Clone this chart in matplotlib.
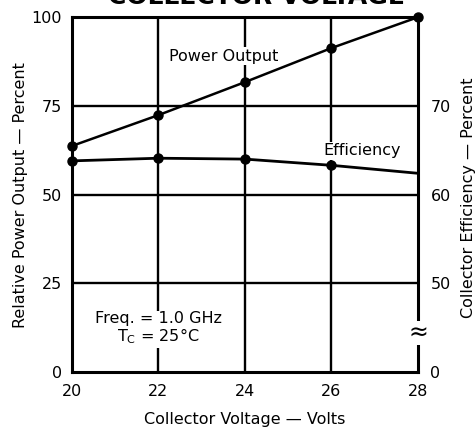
import matplotlib.pyplot as plt
import numpy as np

plt.rcParams['font.family'] = ['DejaVu Sans']

# --- Data ---
voltage = [20, 22, 24, 26, 28]
power_output = [63.7, 72.4, 81.7, 91.3, 100.0]       # relative power, %
efficiency = [63.8, 64.1, 64.0, 63.3, 62.4]          # collector efficiency, %

left_ticks = [0, 25, 50, 75, 100]
right_tick_pos = [0, 25, 50, 75]
right_tick_labels = ["0", "50", "60", "70"]

# efficiency axis is broken: 50..70 % maps onto 25..75 of the left scale
def eff_to_left(e):
    return 25 + (np.asarray(e) - 50) * 2.5

fs = 11.5

fig = plt.figure(figsize=(4.76, 4.30), dpi=100)
ax = fig.add_axes([0.151, 0.135, 0.727, 0.825])

# --- grid ---
for y in [25, 50, 75]:
    ax.axhline(y, color="black", lw=1.7, zorder=1)
for x in [22, 24, 26]:
    ax.axvline(x, color="black", lw=1.7, zorder=1)

# --- curves ---
ax.plot(voltage, power_output, color="black", lw=1.8, marker="o", ms=6.5,
        clip_on=False, zorder=3)
eff_left = eff_to_left(efficiency)
ax.plot(voltage, eff_left, color="black", lw=2.0, zorder=3, clip_on=False)
ax.plot(voltage[:-1], eff_left[:-1], ls="none", marker="o", ms=6.5,
        color="black", clip_on=False, zorder=3)

# --- labels on chart ---
ax.text(23.5, 89, "Power Output", ha="center", va="center", fontsize=fs,
        bbox=dict(facecolor="white", edgecolor="none", pad=1), zorder=2)
ax.text(26.7, 62.3, "Efficiency", ha="center", va="center", fontsize=fs,
        bbox=dict(facecolor="white", edgecolor="none", pad=1), zorder=2)
ax.text(22.0, 12.2, "Freq. = 1.0 GHz\nT$_\\mathregular{C}$ = 25\u00b0C",
        ha="center", va="center", fontsize=fs, linespacing=1.05,
        bbox=dict(facecolor="white", edgecolor="none", pad=1), zorder=2)

ax.set_xlim(20, 28)
ax.set_ylim(0, 100)
ax.set_xticks(voltage)
ax.set_yticks(left_ticks)
ax.tick_params(length=0, labelsize=fs, pad=7)
ax.tick_params(axis="x", pad=9)
for s in ax.spines.values():
    s.set_linewidth(2.2)

ax.set_xlabel("Collector Voltage \u2014 Volts", fontsize=fs, labelpad=9)
ax.set_ylabel("Relative Power Output \u2014 Percent", fontsize=fs,
              va="center")
ax.yaxis.set_label_coords(-0.148, 0.5)

# --- right axis (efficiency) ---
ax2 = ax.twinx()
ax2.set_ylim(0, 100)
ax2.set_yticks(right_tick_pos)
ax2.set_yticklabels(right_tick_labels)
ax2.tick_params(length=0, labelsize=fs, pad=9)
for s in ax2.spines.values():
    s.set_visible(False)
ax2.set_ylabel("Collector Efficiency \u2014 Percent", fontsize=fs,
               rotation=90, va="center")
ax2.yaxis.set_label_coords(1.145, 0.49)

# axis break mark
ax.text(1.0, 0.11, "\u2248", transform=ax.transAxes, ha="center", va="center",
        fontsize=17, bbox=dict(facecolor="white", edgecolor="none", pad=0),
        zorder=5, clip_on=False)

# title, cropped at top of the original scan
fig.text(0.538, 1.008, "COLLECTOR VOLTAGE", ha="center", va="center",
         fontsize=18, fontweight="bold")

fig.savefig("out.png", dpi=100)
